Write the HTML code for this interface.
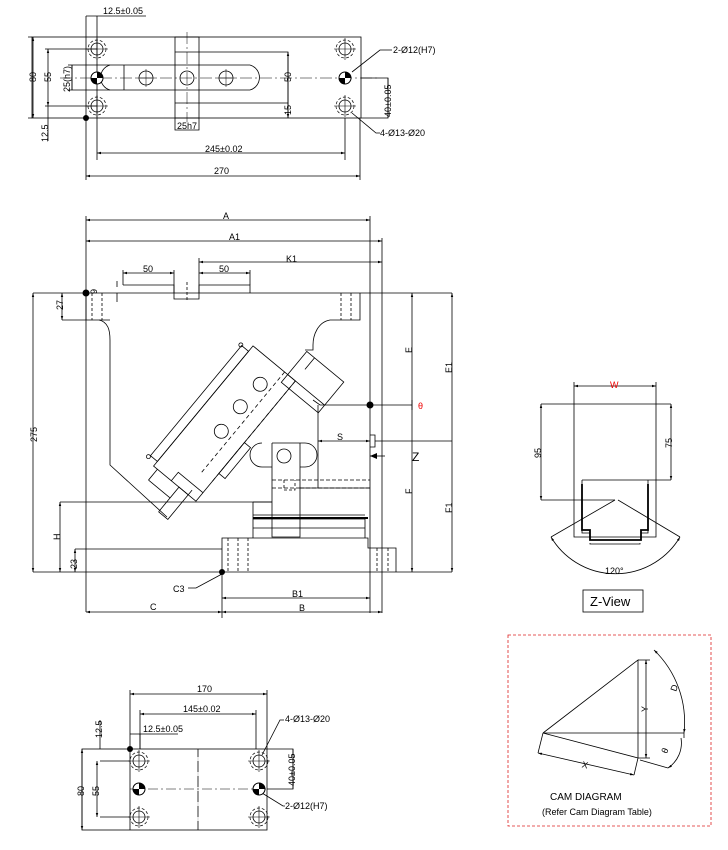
<!DOCTYPE html>
<html><head><meta charset="utf-8"><style>
html,body{margin:0;padding:0;background:#fff}
svg{display:block}
text{font-family:"Liberation Sans",Arial,sans-serif;font-size:9px;fill:#000}
</style></head><body>
<svg width="728" height="850" viewBox="0 0 728 850" xmlns="http://www.w3.org/2000/svg">
<defs>
<marker id="a" viewBox="0 0 10 10" refX="10" refY="5" markerWidth="5" markerHeight="5" orient="auto-start-reverse"><path d="M0,2 L10,5 L0,8z" fill="#000"/></marker>
<g id="hole"><circle r="6" fill="none" stroke="#000" stroke-width="0.8"/><circle r="9" fill="none" stroke="#000" stroke-width="0.7" stroke-dasharray="3,2"/><path d="M-11,0H11M0,-11V11" stroke="#000" stroke-width="0.6"/></g>
<g id="pin"><circle r="6" fill="#fff" stroke="#000"/><path d="M0,0H-6A6,6 0 0 0 0,6z M0,0H6A6,6 0 0 0 0,-6z" fill="#000"/></g>
</defs>
<g fill="none" stroke="#000" stroke-width="0.8">
<!-- TOP VIEW -->
<rect x="32" y="37" width="329" height="81"/>
<path d="M361,78H388V118H361"/>
<path d="M72,65H250M72,90H250M72,65V90"/>
<path d="M110,65A13,13 0 0 0 110,90"/>
<path d="M250,65A13,13 0 0 1 250,90"/>
<path d="M124,65V90"/>
<rect x="175" y="37" width="24" height="81"/>
<path d="M175,52H199M175,103H199"/>
<path d="M199,52H288V118M199,103H288"/>
<path d="M60,78H380" stroke-dasharray="12,3,2,3" stroke-width="0.5"/>
<path d="M187,32V122" stroke-dasharray="12,3,2,3" stroke-width="0.5"/>
<circle cx="146" cy="78" r="7"/><path d="M137,78H155M146,69V87" stroke-width="0.5"/>
<circle cx="187" cy="78" r="7"/>
<circle cx="226" cy="78" r="7"/><path d="M217,78H235M226,69V87" stroke-width="0.5"/>
<path d="M86,16V180M97,16V160M345,118V160M360,118V180"/>
<path d="M86,16H146"/>
<path d="M28,37H32M28,118H32M45,49H97M45,106H97M68,65H72M68,90H72"/>
<path d="M33,37V118" marker-start="url(#a)" marker-end="url(#a)"/>
<path d="M48,49V106" marker-start="url(#a)" marker-end="url(#a)"/>
<path d="M72,65V90"/>
<path d="M48,106V141"/>
<path d="M97,153H345" marker-start="url(#a)" marker-end="url(#a)"/>
<path d="M86,176H360" marker-start="url(#a)" marker-end="url(#a)"/>
<path d="M288,52V118" marker-start="url(#a)" marker-end="url(#a)"/>
<path d="M388,78V118"/>
<path d="M175,118V130H199V118"/>
<path d="M352,72L380,50H392M352,113L376,133H380"/>
</g>
<use href="#hole" x="97" y="49"/><use href="#hole" x="97" y="106"/>
<use href="#hole" x="345" y="49"/><use href="#hole" x="345" y="106"/>
<use href="#pin" x="97" y="78"/><use href="#pin" x="345" y="78"/>
<circle cx="86" cy="118" r="3" fill="#000"/>
<text x="103" y="14">12.5±0.05</text>
<text x="393" y="53">2-Ø12(H7)</text>
<text x="380" y="136">4-Ø13-Ø20</text>
<text x="205" y="152">245±0.02</text>
<text x="214" y="174">270</text>
<text x="177" y="129">25h7</text>
<text transform="translate(36,82) rotate(-90)">80</text>
<text transform="translate(51,82) rotate(-90)">55</text>
<text transform="translate(70,92) rotate(-90)">25(h7)</text>
<text transform="translate(291,82) rotate(-90)">50</text>
<text transform="translate(291,115) rotate(-90)">15</text>
<text transform="translate(48,142) rotate(-90)">12.5</text>
<text transform="translate(391,117) rotate(-90)">40±0.05</text>

<!-- MAIN VIEW -->
<g fill="none" stroke="#000" stroke-width="0.8">
<path d="M86,216V612M370,216V613M382,238V613"/>
<path d="M86,220H370" marker-start="url(#a)" marker-end="url(#a)"/>
<path d="M86,241H382" marker-start="url(#a)" marker-end="url(#a)"/>
<path d="M199,262H382" marker-start="url(#a)" marker-end="url(#a)"/>
<path d="M123,273H174" marker-start="url(#a)" marker-end="url(#a)"/>
<path d="M199,273H250" marker-start="url(#a)" marker-end="url(#a)"/>
<path d="M123,270V285M174,270V293M199,258V293M250,270V285"/>
<path d="M123,285H174V299H199V285H250V293M199,285"/>
<path d="M187,282V302" stroke-dasharray="3,2"/>
<path d="M33,293H452M33,572H452"/>
<path d="M33,293V572" marker-start="url(#a)" marker-end="url(#a)"/>
<path d="M62,293V320" marker-start="url(#a)" marker-end="url(#a)"/>
<path d="M62,320H86"/>
<path d="M117,293V302M117,281V287" />
<path d="M86,293V320M86,320H110"/>
<path d="M92,293V320M102,293V320" stroke-dasharray="3,2"/>
<path d="M99,320C108,322 110,330 110,340V465L167,517"/>
<path d="M341,293V320M351,293V320" stroke-dasharray="3,2"/>
<path d="M360,293V320H330C318,322 313,335 313,345V350H305"/>
<!-- tilted assembly -->
<g transform="translate(152,457) rotate(-50.4)">
<rect x="0" y="-2" width="143" height="9"/>
<rect x="-6" y="7" width="156" height="55"/>
<path d="M-20,12H-6M-20,12V40H-6M-38,40H-6V52M-38,40V52H0"/>
<rect x="140" y="52" width="40" height="48"/>
<path d="M150,52V100M165,62H180"/>
<path d="M20,48H150M20,62H150" stroke-dasharray="4,3"/>
<rect x="30" y="62" width="40" height="8"/>
<path d="M5,62V30H-6"/>
<circle cx="125" cy="37" r="7"/><circle cx="95" cy="36" r="7"/><circle cx="64" cy="37" r="7"/>
<circle cx="143" cy="-3" r="2"/><circle cx="-2" cy="-3" r="2"/>
</g>
<path d="M313,400L320,405H370"/>
<path d="M318,405V488"/>
<path d="M318,441H370" marker-start="url(#a)" marker-end="url(#a)"/>
<path d="M370,435H375V447H370M375,441H452"/>
<path d="M370,456H385"/>
<path d="M272,443H300M272,443V537H300V443"/>
<path d="M262,443A12,12 0 0 0 262,467H272M300,443H305A12,12 0 0 1 305,467H300"/>
<circle cx="284" cy="456" r="7"/>
<path d="M272,480H370M300,488H370M272,488H300" stroke-dasharray="4,2"/>
<path d="M300,488H370"/>
<path d="M284,480V490H295V480" stroke-dasharray="3,2"/>
<path d="M253,502H272M253,502V538H222V572M253,538H368V548H396V572"/>
<path d="M253,515H365M253,519H365M253,528H365M365,519V538" />
<path d="M253,518H368" stroke-width="2"/>
<path d="M228,538V572M238,538V572M248,538V572M377,548V572M388,548V572" stroke-dasharray="3,2"/>
<path d="M60,502H272"/>
<path d="M60,502V572" marker-start="url(#a)" marker-end="url(#a)"/>
<path d="M75,549V572" marker-start="url(#a)" marker-end="url(#a)"/>
<path d="M75,549H222"/>
<path d="M412,293V572" marker-start="url(#a)" marker-end="url(#a)"/>
<path d="M452,293V572" marker-start="url(#a)" marker-end="url(#a)"/>
<path d="M412,400V410" />
<path d="M370,405H412"/>
<path d="M222,572V618"/>
<path d="M222,598H370" marker-start="url(#a)" marker-end="url(#a)"/>
<path d="M86,612H222" marker-start="url(#a)" marker-end="url(#a)"/>
<path d="M222,612H382" marker-start="url(#a)" marker-end="url(#a)"/>
<path d="M188,588H196L222,574"/>
</g>
<circle cx="86" cy="293" r="3.5" fill="#000"/>
<circle cx="370" cy="405" r="3.5" fill="#000"/>
<circle cx="222" cy="572" r="3" fill="#000"/>
<path d="M370,456L377,453V459z" fill="#000"/>
<text x="223" y="219">A</text>
<text x="229" y="240">A1</text>
<text x="286" y="262">K1</text>
<text x="143" y="272">50</text>
<text x="219" y="272">50</text>
<text x="337" y="440">S</text>
<text x="418" y="409" fill="#e00" style="fill:#e00">θ</text>
<text x="412" y="461" style="font-size:12px">Z</text>
<text x="173" y="592">C3</text>
<text x="292" y="597">B1</text>
<text x="150" y="610">C</text>
<text x="299" y="611">B</text>
<text transform="translate(37,442) rotate(-90)">275</text>
<text transform="translate(63,310) rotate(-90)">27</text>
<text transform="translate(97,294) rotate(-90)">9</text>
<text transform="translate(60,540) rotate(-90)">H</text>
<text transform="translate(77,569) rotate(-90)">23</text>
<text transform="translate(412,353) rotate(-90)">E</text>
<text transform="translate(412,494) rotate(-90)">F</text>
<text transform="translate(452,373) rotate(-90)">E1</text>
<text transform="translate(452,513) rotate(-90)">F1</text>

<!-- Z VIEW -->
<g fill="none" stroke="#000" stroke-width="0.8">
<path d="M574,386H656" marker-start="url(#a)" marker-end="url(#a)"/>
<path d="M574,382V537H656V382"/>
<path d="M541,404H671M582,480H671M582,480V533H590V538M648,480V533H641"/>
<path d="M582,484V530H590V540H641V530H648V484" stroke-width="1.8"/>
<path d="M590,543V544H640V543"/>
<path d="M541,404V500" marker-start="url(#a)" marker-end="url(#a)"/>
<path d="M671,404V480" marker-start="url(#a)" marker-end="url(#a)"/>
<path d="M541,500H615"/>
<path d="M615,500L551,537M618,500L680,537"/>
<path d="M551,537A75,75 0 0 0 680,537" marker-start="url(#a)" marker-end="url(#a)"/>
<rect x="583" y="590" width="60" height="22"/>
</g>
<text x="610" y="388" style="fill:#e00">W</text>
<text x="605" y="574">120°</text>
<text x="590" y="606" style="font-size:13px">Z-View</text>
<text transform="translate(541,458) rotate(-90)">95</text>
<text transform="translate(672,448) rotate(-90)">75</text>

<!-- BOTTOM VIEW -->
<g fill="none" stroke="#000" stroke-width="0.8">
<rect x="82" y="749" width="185" height="81"/>
<path d="M267,749H293V789H267"/>
<path d="M130,690V830M198,749V830" />
<path d="M198,749V830" stroke="#fff" stroke-width="0.8" stroke-dasharray="0,8,4,3"/>
<path d="M130,789H267" stroke-dasharray="10,3,2,3" stroke-width="0.5"/>
<path d="M267,690V749M140,710V749M256,710V749"/>
<path d="M130,694H267" marker-start="url(#a)" marker-end="url(#a)"/>
<path d="M140,714H256" marker-start="url(#a)" marker-end="url(#a)"/>
<path d="M130,734H178M140,734V749"/>
<path d="M100,720V749M100,761H130M100,817H130"/>
<path d="M82,749V830" marker-start="url(#a)" marker-end="url(#a)"/>
<path d="M97,761V817" marker-start="url(#a)" marker-end="url(#a)"/>
<path d="M293,749V789"/>
<path d="M262,755L280,720H284M262,793L283,806H285"/>
</g>
<use href="#hole" x="139" y="761"/><use href="#hole" x="139" y="817"/>
<use href="#hole" x="259" y="761"/><use href="#hole" x="259" y="817"/>
<use href="#pin" x="139" y="789"/><use href="#pin" x="259" y="789"/>
<circle cx="130" cy="749" r="3" fill="#000"/>
<text x="197" y="692">170</text>
<text x="183" y="712">145±0.02</text>
<text x="143" y="732">12.5±0.05</text>
<text x="285" y="722">4-Ø13-Ø20</text>
<text x="285" y="809">2-Ø12(H7)</text>
<text transform="translate(84,796) rotate(-90)">80</text>
<text transform="translate(99,796) rotate(-90)">55</text>
<text transform="translate(102,738) rotate(-90)">12.5</text>
<text transform="translate(295,786) rotate(-90)">40±0.05</text>

<!-- CAM DIAGRAM -->
<rect x="508" y="635" width="203" height="191" fill="none" stroke="#d22" stroke-width="0.8" stroke-dasharray="3,2"/>
<g fill="none" stroke="#000" stroke-width="0.8">
<path d="M543,733L638,660V758L543,733M543,733H684"/>
<path d="M638,660H650M638,758H650"/>
<path d="M646,660V758" marker-start="url(#a)" marker-end="url(#a)"/>
<path d="M654,650A100,100 0 0 1 684,733" marker-start="url(#a)" marker-end="url(#a)"/>
<path d="M543,733L538,753M638,758L634,775"/>
<path d="M538,753L634,775" marker-start="url(#a)" marker-end="url(#a)"/>
<path d="M684,733V738"/>
<path d="M640,760L668,768" />
<path d="M681,738A30,30 0 0 1 668,768" marker-end="url(#a)"/>
</g>
<text x="582" y="768" transform="rotate(13 585 765)">X</text>
<text transform="translate(648,712) rotate(-90)">Y</text>
<text transform="translate(676,692) rotate(-70)">D</text>
<text transform="translate(667,754) rotate(-70)">θ</text>
<text x="550" y="800" style="font-size:10px">CAM DIAGRAM</text>
<text x="542" y="815">(Refer Cam Diagram Table)</text>
</svg>
</body></html>
